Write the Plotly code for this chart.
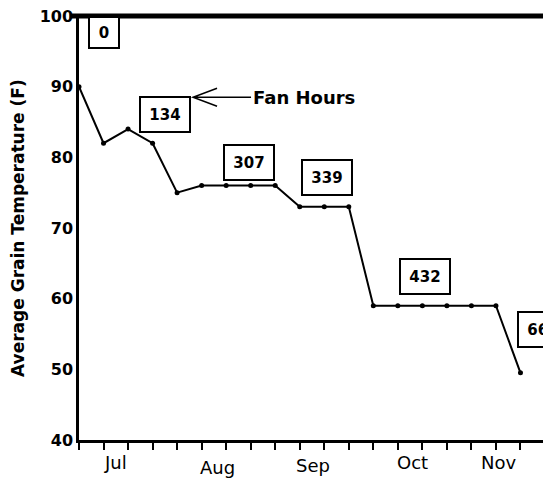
import plotly.graph_objects as go

# weekly readings, week 0 = late June
weeks = list(range(19))
temps = [90, 82, 84, 82, 75, 76, 76, 76, 76, 73, 73, 73, 59, 59, 59, 59, 59, 59, 49.5]

# cumulative fan hours and where each label box sits (week, temp)
fan_hours = ["0", "134", "307", "339", "432", "668"]
label_weeks = [1.02, 3.49, 6.93, 10.13, 14.09, 18.9]
label_temps = [97.6, 86.0, 79.3, 77.2, 63.1, 55.6]

months = ["Jul", "Aug", "Sep", "Oct", "Nov"]
month_pos = [1.47, 5.63, 9.55, 13.6, 17.1]
month_drop = [-0.054, -0.066, -0.059, -0.052, -0.054]

y_ticks = [40, 50, 60, 70, 80, 90, 100]

BOLD = "DejaVu Sans"

fig = go.Figure()

fig.add_trace(go.Scatter(
    x=weeks,
    y=temps,
    mode="lines+markers",
    line=dict(color="black", width=2),
    marker=dict(color="black", size=5),
    showlegend=False,
    cliponaxis=False,
))

# fan-hour boxes
for txt, wx, ty in zip(fan_hours, label_weeks, label_temps):
    small = txt == "0"
    fig.add_annotation(
        x=wx, y=ty, text=txt, showarrow=False,
        font=dict(family=BOLD, size=15, color="black", weight="bold"),
        bordercolor="black", borderwidth=2, borderpad=2,
        bgcolor="white",
        width=24 if small else 44,
        height=25 if small else 29,
    )

# "Fan Hours" pointer
fig.add_annotation(
    x=4.65, y=88.5, xref="x", yref="y",
    text="Fan Hours", showarrow=False,
    xanchor="left", xshift=58,
    font=dict(family=BOLD, size=18, color="black", weight="bold"),
)
fig.add_shape(
    type="path", xref="x", yref="y",
    xsizemode="pixel", ysizemode="pixel",
    xanchor=4.65, yanchor=88.5,
    path="M 24,9 L 0,0 L 24,-9 M 0,0 L 58,0",
    line=dict(color="black", width=1.5),
)

# month labels under the weekly ticks
for m, pos, dy in zip(months, month_pos, month_drop):
    fig.add_annotation(
        x=pos, y=dy, xref="x", yref="paper",
        text=m, showarrow=False, xanchor="center", yanchor="middle",
        font=dict(family="DejaVu Sans", size=18, color="black"),
    )

# y title
fig.add_annotation(
    x=-0.131, y=0.5, xref="paper", yref="paper",
    text="Average Grain Temperature (F)", textangle=-90,
    showarrow=False, xanchor="center", yanchor="middle",
    font=dict(family=BOLD, size=17, color="black", weight="bold"),
)

# heavy top border and thin right border
fig.add_shape(type="line", xref="paper", yref="paper",
              x0=-0.02, x1=1.0, y0=1, y1=1,
              line=dict(color="black", width=5))
fig.add_shape(type="line", xref="paper", yref="paper",
              x0=1, x1=1, y0=0, y1=1,
              line=dict(color="black", width=1.5))

fig.update_layout(
    width=551,
    height=480,
    margin=dict(l=71, r=14, t=8, b=48, autoexpand=False),
    paper_bgcolor="white",
    plot_bgcolor="white",
    xaxis=dict(
        range=[0, 19],
        tickmode="linear", tick0=0, dtick=1,
        ticks="outside", ticklen=7, tickwidth=2, tickcolor="black",
        showticklabels=False, automargin=False,
        showgrid=False, zeroline=False,
        showline=True, linecolor="black", linewidth=3,
    ),
    yaxis=dict(
        range=[40, 100],
        tickvals=y_ticks,
        ticks="", automargin=False,
        ticklabeloverflow="allow",
        tickfont=dict(family=BOLD, size=16, color="black", weight="bold"),
        showgrid=False, zeroline=False,
        showline=True, linecolor="black", linewidth=2.5,
    ),
)

fig.write_html("out.html")
